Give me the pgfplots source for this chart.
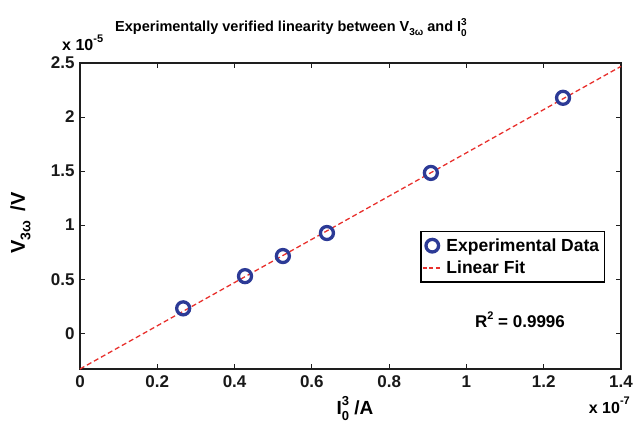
\documentclass[border=0pt]{standalone}
\usepackage{fontspec}
\setmainfont{Liberation Sans}
\usepackage{pgfplots}
\pgfplotsset{compat=1.18}
\definecolor{mblue}{RGB}{44,58,150}
\definecolor{mred}{RGB}{232,48,44}
\definecolor{axgray}{RGB}{30,30,30}
\begin{document}
\begin{tikzpicture}[x=1pt,y=1pt]
\useasboundingbox (-80,-54) rectangle (556,369);
\begin{axis}[
  at={(0,0)}, anchor=south west,
  scale only axis, width=541pt, height=306pt,
  xmin=0, xmax=1.4, ymin=-0.331, ymax=2.5,
  xtick={0,0.2,0.4,0.6,0.8,1,1.2,1.4},
  xticklabels={0,0.2,0.4,0.6,0.8,1,1.2,1.4},
  ytick={0,0.5,1,1.5,2,2.5},
  yticklabels={0,0.5,1,1.5,2,2.5},
  scaled ticks=false,
  tick align=inside,
  major tick length=5pt,
  axis line style={axgray, line width=1.3pt},
  every tick/.style={axgray, line width=0.8pt},
  tick label style={font=\fontsize{17}{19}\selectfont\bfseries, text=black!90},
  xticklabel style={yshift=-3pt},
  yticklabel style={xshift=-2pt},
  legend style={at={(0.970,0.451)}, anchor=north east, draw=black, line width=1.2pt,
    font=\fontsize{17.5}{19}\selectfont\bfseries, inner xsep=1pt, inner ysep=3pt,
    nodes={inner sep=4pt},
    legend cell align=left},
  clip=false,
]
\addplot[only marks, mark=o, mark size=6.5pt, mark options={draw=mblue, line width=3.3pt},
  legend image code/.code={\draw[mblue, line width=3.3pt] (0.33cm,0) circle (6.3pt);}]
  coordinates {(0.267,0.23) (0.427,0.528) (0.525,0.714) (0.639,0.927) (0.908,1.483) (1.25,2.178)};
\addlegendentry{Experimental Data}
\addplot[mred, line width=1.3pt, dash pattern=on 5pt off 3pt,
  legend image code/.code={\draw[mred, line width=1.6pt, dash pattern=on 4pt off 2.5pt] (0cm,0) -- (0.66cm,0);}]
  coordinates {(0,-0.331) (1.4,2.469)};
\addlegendentry{Linear Fit}
\end{axis}
% title
\node[anchor=base, font=\fontsize{14.5}{16}\selectfont\bfseries] at (211,337)
  {Experimentally verified linearity between V\raisebox{-0.45ex}{\fontsize{10}{12}\selectfont 3ω} and I\rlap{\raisebox{0.85ex}{\fontsize{10}{12}\selectfont 3}}\raisebox{-0.55ex}{\fontsize{10}{12}\selectfont 0}};
% y scale label
\node[anchor=base west, font=\fontsize{16}{18}\selectfont\bfseries, inner sep=0pt] at (-18,318)
  {x 10\raisebox{1.0ex}{\fontsize{11}{12}\selectfont -5}};
% x scale label
\node[anchor=base east, font=\fontsize{16}{18}\selectfont\bfseries, inner sep=0pt] at (550,-44)
  {x 10\raisebox{1.0ex}{\fontsize{11}{12}\selectfont -7}};
% R^2
\node[font=\fontsize{17}{19}\selectfont\bfseries] at (440,49)
  {R\raisebox{0.9ex}{\fontsize{11}{12}\selectfont 2} = 0.9996};
% x label
\node[anchor=base, font=\fontsize{19}{21}\selectfont\bfseries] at (275,-45)
  {I\rlap{\raisebox{0.8ex}{\fontsize{13}{14}\selectfont 3}}\raisebox{-0.6ex}{\fontsize{13}{14}\selectfont 0} /A};
% y label
\node[anchor=base, rotate=90, font=\fontsize{20}{22}\selectfont\bfseries] at (-55,146)
  {V\raisebox{-0.5ex}{\fontsize{14}{15}\selectfont 3ω} \,/V};
\end{tikzpicture}
\end{document}
